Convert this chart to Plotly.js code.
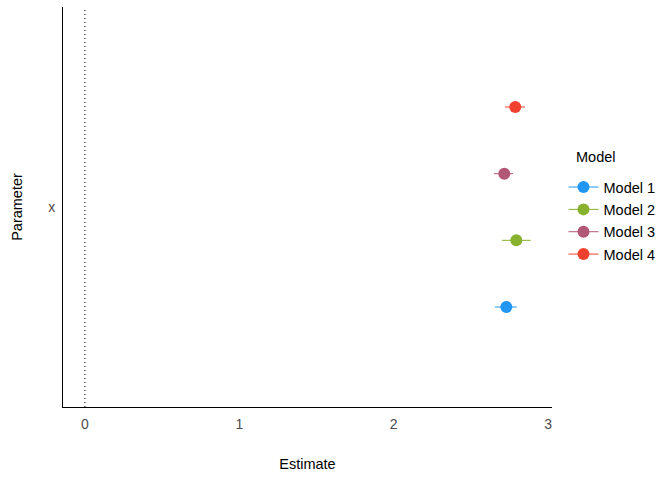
<!DOCTYPE html>
<html>
<head>
<meta charset="utf-8">
<script src="https://cdn.plot.ly/plotly-3.0.1.min.js"></script>
<style>html,body{margin:0;padding:0;background:#fff}#chart{width:672px;height:480px}</style>
</head>
<body>
<div id="chart"></div>
<script>
// Data
const parameters = ['x'];
const models = ['Model 1', 'Model 2', 'Model 3', 'Model 4'];
const estimates = [2.729, 2.794, 2.716, 2.787];
const ciLow = [2.655, 2.700, 2.649, 2.720];
const ciHigh = [2.796, 2.887, 2.772, 2.850];
const colors = ['#2196F3', '#88B12F', '#B25776', '#F0412F'];
const legendTitle = 'Model';

// dodge: 4 models across width 0.8 centered on the parameter position (1)
const dodgeWidth = 0.8;
const n = models.length;
const traces = models.map((m, i) => {
  const offset = -dodgeWidth / 2 + dodgeWidth / n * (i + 0.5);
  return {
    type: 'scatter',
    mode: 'lines+markers',
    name: m,
    legendgroup: m,
    x: [estimates[i]],
    y: [1 + offset],
    marker: {color: colors[i], size: 12},
    line: {color: colors[i], width: 1},
    error_x: {
      type: 'data', symmetric: false,
      array: [ciHigh[i] - estimates[i]],
      arrayminus: [estimates[i] - ciLow[i]],
      color: colors[i], thickness: 1, width: 0
    },
    hoverinfo: 'x+name'
  };
});

const layout = {
  width: 672, height: 480,
  margin: {l: 63, r: 120, t: 7, b: 73},
  paper_bgcolor: '#fff', plot_bgcolor: '#fff',
  font: {family: 'Liberation Sans, Arial, sans-serif', color: '#000'},
  showlegend: true,
  legend: {
    x: 1.0235, xanchor: 'left', y: 0.466, yanchor: 'middle',
    font: {size: 14.5, color: '#000'},
    traceorder: 'grouped', tracegroupgap: 0.5,
    bgcolor: 'rgba(0,0,0,0)'
  },
  annotations: [{
    text: legendTitle, xref: 'paper', yref: 'paper',
    x: 1.045, xanchor: 'left', y: 0.625, yanchor: 'middle',
    showarrow: false, font: {size: 14.5, color: '#000'}
  }],
  xaxis: {
    range: [-0.142, 3.025],
    tickvals: [0, 1, 2, 3],
    ticks: 'outside', ticklen: 4, tickcolor: 'rgba(0,0,0,0)',
    tickfont: {size: 14, color: '#4D4D4D'},
    showgrid: false, zeroline: false,
    showline: true, linecolor: '#000', linewidth: 1,
    title: {text: 'Estimate', font: {size: 14.5, color: '#000'}, standoff: 28}
  },
  yaxis: {
    range: [0.4, 1.6],
    tickvals: [1], ticktext: parameters,
    ticks: 'outside', ticklen: 4, tickcolor: 'rgba(0,0,0,0)',
    tickfont: {size: 14, color: '#4D4D4D'},
    showgrid: false, zeroline: false,
    showline: true, linecolor: '#000', linewidth: 1,
    title: {text: 'Parameter', font: {size: 14.5, color: '#000'}, standoff: 22}
  },
  shapes: [{
    type: 'line', xref: 'x', yref: 'paper', x0: 0, x1: 0, y0: 0, y1: 1,
    line: {color: '#000', width: 1, dash: '1px,3px'}
  }]
};

Plotly.newPlot('chart', traces, layout, {displayModeBar: false, staticPlot: true});
</script>
</body>
</html>
